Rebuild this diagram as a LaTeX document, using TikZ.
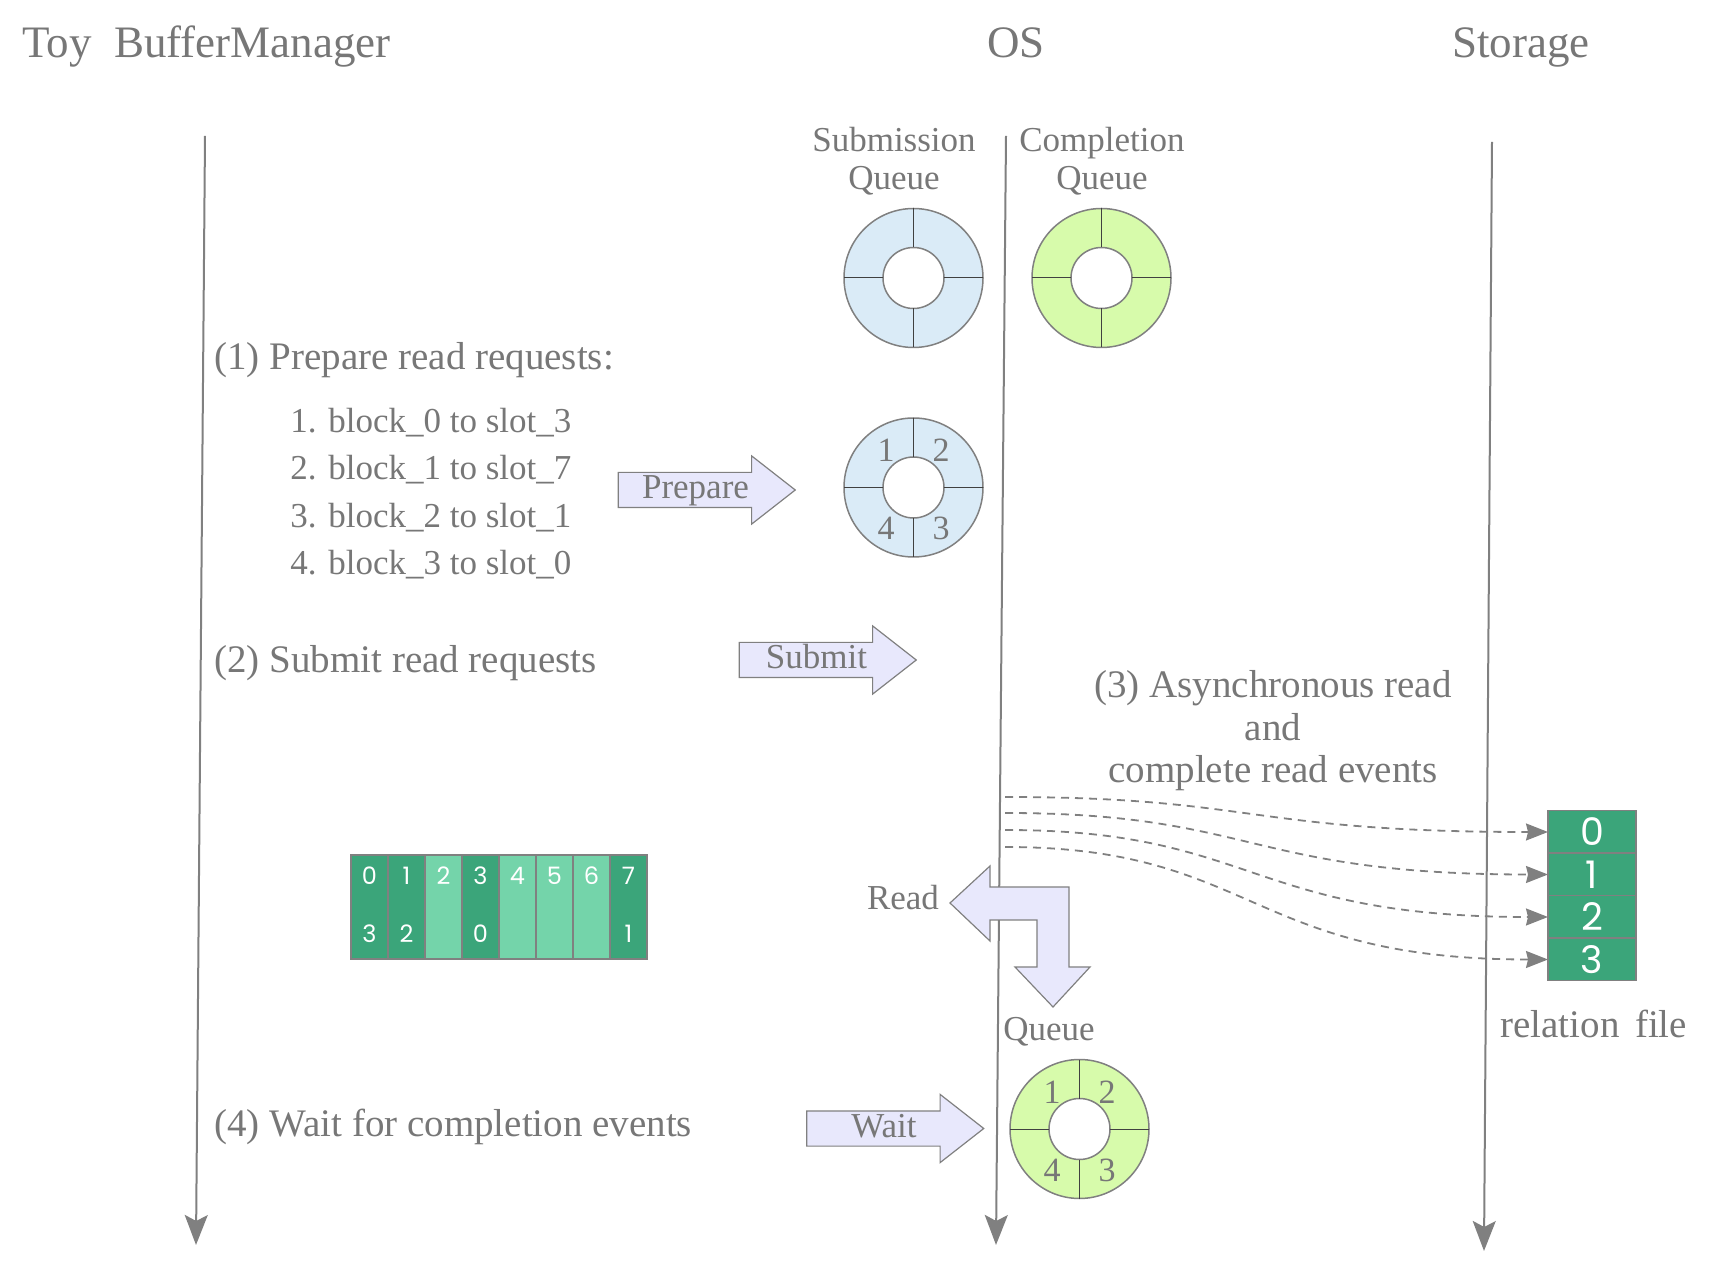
\documentclass[tikz,border=0pt]{standalone}
\usepackage{fontspec}
\setmainfont{Liberation Serif}
\newfontfamily\digitfont{Poppins}
\usetikzlibrary{arrows.meta,positioning,calc,shapes.arrows}
\definecolor{txtgray}{HTML}{777777}
\definecolor{linegray}{HTML}{808080}
\definecolor{sqblue}{HTML}{DAEBF7}
\definecolor{cqgreen}{HTML}{D7FBAB}
\definecolor{lav}{HTML}{E8E8FC}
\definecolor{slotdark}{HTML}{3BA57A}
\definecolor{slotlight}{HTML}{74D4AA}
\tikzset{
  hdr/.style={font=\fontsize{22.5}{27}\selectfont,text=txtgray,inner sep=0pt,anchor=base west},
  stepline/.style={font=\fontsize{19.5}{21.25}\selectfont,text=txtgray,inner sep=0pt,anchor=base west},
  lbl/.style={font=\fontsize{17.5}{19}\selectfont,text=txtgray,inner sep=0pt},
  life/.style={draw=linegray,line width=1pt,-{Stealth[length=15pt,width=11.5pt,inset=3pt]}},
  ringout/.style={circle,draw=linegray,line width=0.75pt,minimum size=69.5pt,inner sep=0pt,outer sep=0pt},
  ringin/.style={circle,draw=linegray,line width=0.75pt,fill=white,minimum size=30.5pt,inner sep=0pt,outer sep=0pt},
  spoke/.style={draw=black!75,line width=0.5pt},
  ringnum/.style={lbl,font=\fontsize{17}{17}\selectfont},
  blk/.style={single arrow,draw=linegray,line width=0.6pt,fill=lav,lbl,
    text height=12pt,text depth=3.5pt,inner ysep=0.75pt,inner xsep=0pt,
    minimum width=33.5pt,minimum height=88.5pt,
    single arrow head extend=8.25pt,single arrow tip angle=76},
  slot/.style={draw=linegray,line width=0.75pt,minimum width=18.5pt,minimum height=52pt,inner sep=0pt,outer sep=0pt},
  cellnum/.style={text=white,inner sep=0pt,font=\digitfont\fontsize{12}{12}\selectfont},
  fcell/.style={draw=linegray,line width=0.75pt,fill=slotdark,minimum width=44pt,minimum height=21.25pt,
    inner sep=0pt,outer sep=0pt,text=white,font=\digitfont\fontsize{19}{19}\selectfont},
  rd/.style={draw=linegray,line width=0.9pt,dash pattern=on 4pt off 3pt,
    -{Stealth[length=11pt,width=8.5pt,inset=1pt]}},
}
% ring with four slots
\newcommand{\qring}[3]{%
  \node[ringout,fill=#3] (#1) at (#2) {};
  \node[ringin] (#1c) at (#1) {};
  \draw[spoke] (#1.north) -- (#1c.north) (#1.south) -- (#1c.south)
    (#1.east) -- (#1c.east) (#1.west) -- (#1c.west);
}

\begin{document}
\begin{tikzpicture}[x=0.5pt,y=-0.5pt]
  \useasboundingbox (0,0) rectangle (1710,1288);

  % headers
  \node[hdr] (bm) at (22,58) {Toy\ \ BufferManager};
  \node[hdr] (os) at (987,58) {OS};
  \node[hdr] (st) at (1452,58) {Storage};

  % lifelines
  \coordinate (bmtop) at (205,136);
  \coordinate (bmbot) at (196,1245);
  \coordinate (ostop) at (1006,136);
  \coordinate (osbot) at (996,1245);
  \coordinate (sttop) at (1492,142);
  \coordinate (stbot) at (1484,1251);
  \draw[life] (bmtop) -- (bmbot);
  \draw[life] (ostop) -- (osbot);
  \draw[life] (sttop) -- (stbot);

  % queues
  \node[lbl,align=center,anchor=base] (sqlbl) at (894,190) {Submission\\Queue};
  \node[lbl,align=center,anchor=base] (cqlbl) at (1102,190) {Completion\\Queue};
  \qring{sq}{913.5,278}{sqblue}
  \qring{cq}{1101.5,278}{cqgreen}

  % step 1
  \node[stepline] (s1) at (214,370) {(1) Prepare read requests:};
  \node[lbl,anchor=base west,align=left,font=\fontsize{17.5}{23.75}\selectfont] (reqs) at (290,575)
    {1. block\_0 to slot\_3\\2. block\_1 to slot\_7\\3. block\_2 to slot\_1\\4. block\_3 to slot\_0};
  \node[blk] (prep) at (695.5,490) {Prepare};
  \qring{sqf}{913.5,487.5}{sqblue}
  \node[ringnum] (sqf1) at ($(sqf)+(-27.5,-37.5)$) {1};
  \node[ringnum] (sqf2) at ($(sqf)+(27.5,-37.5)$) {2};
  \node[ringnum] (sqf3) at ($(sqf)+(27.5,40.5)$) {3};
  \node[ringnum] (sqf4) at ($(sqf)+(-27.5,40.5)$) {4};

  % step 2
  \node[stepline] (s2) at (214,673) {(2) Submit read requests};
  \node[blk] (sub) at (816.5,660) {Submit};

  % step 3
  \node[stepline,anchor=base,align=center] (s3) at (1273,783)
    {(3) Asynchronous read\\and\\complete read events};
  \node[fcell] (f0) at (1592,832) {0};
  \node[fcell,below=0pt of f0] (f1) {1};
  \node[fcell,below=0pt of f1] (f2) {2};
  \node[fcell,below=0pt of f2] (f3) {3};
  \node[stepline] (rel) at (1500,1037) {relation\hspace{0.4em}file};
  \foreach \k/\yy in {0/797,1/813,2/830,3/847} {
    \coordinate (r\k) at (1005,\yy);
    \draw[rd] (r\k) .. controls +(250,0) and +(-300,0) .. (f\k.west);
  }

  % buffer slots
  \foreach \i/\c/\t/\b in {0/slotdark/0/3,1/slotdark/1/2,2/slotlight/2/,3/slotdark/3/0,
      4/slotlight/4/,5/slotlight/5/,6/slotlight/6/,7/slotdark/7/1} {
    \node[slot,fill=\c] (b\i) at ({369.5+37*\i},907) {};
    \node[cellnum] (b\i t) at ($(b\i)+(0,-31.5)$) {\t};
    \node[cellnum] (b\i b) at ($(b\i)+(0,26.5)$) {\b};
  }

  % read / queue arrow
  \draw[draw=linegray,line width=0.6pt,fill=lav] (950,903) -- (990,866) -- (990,887)
    -- (1069,887) -- (1069,967) -- (1090,967) -- (1053,1007) -- (1015,967)
    -- (1037,967) -- (1037,920) -- (990,920) -- (990,941) -- cycle;
  \node[lbl,anchor=base] (rdlbl) at (903,910) {Read};
  \node[lbl,anchor=base west] (qlbl) at (1003,1041) {Queue};

  % step 4
  \node[stepline] (s4) at (214,1136) {(4) Wait for completion events};
  \node[blk] (wt) at (884,1128.5) {Wait};
  \qring{cqf}{1079.5,1129}{cqgreen}
  \node[ringnum] (cqf1) at ($(cqf)+(-27.5,-37)$) {1};
  \node[ringnum] (cqf2) at ($(cqf)+(27.5,-37)$) {2};
  \node[ringnum] (cqf3) at ($(cqf)+(27.5,41)$) {3};
  \node[ringnum] (cqf4) at ($(cqf)+(-27.5,41)$) {4};
\end{tikzpicture}
\end{document}
